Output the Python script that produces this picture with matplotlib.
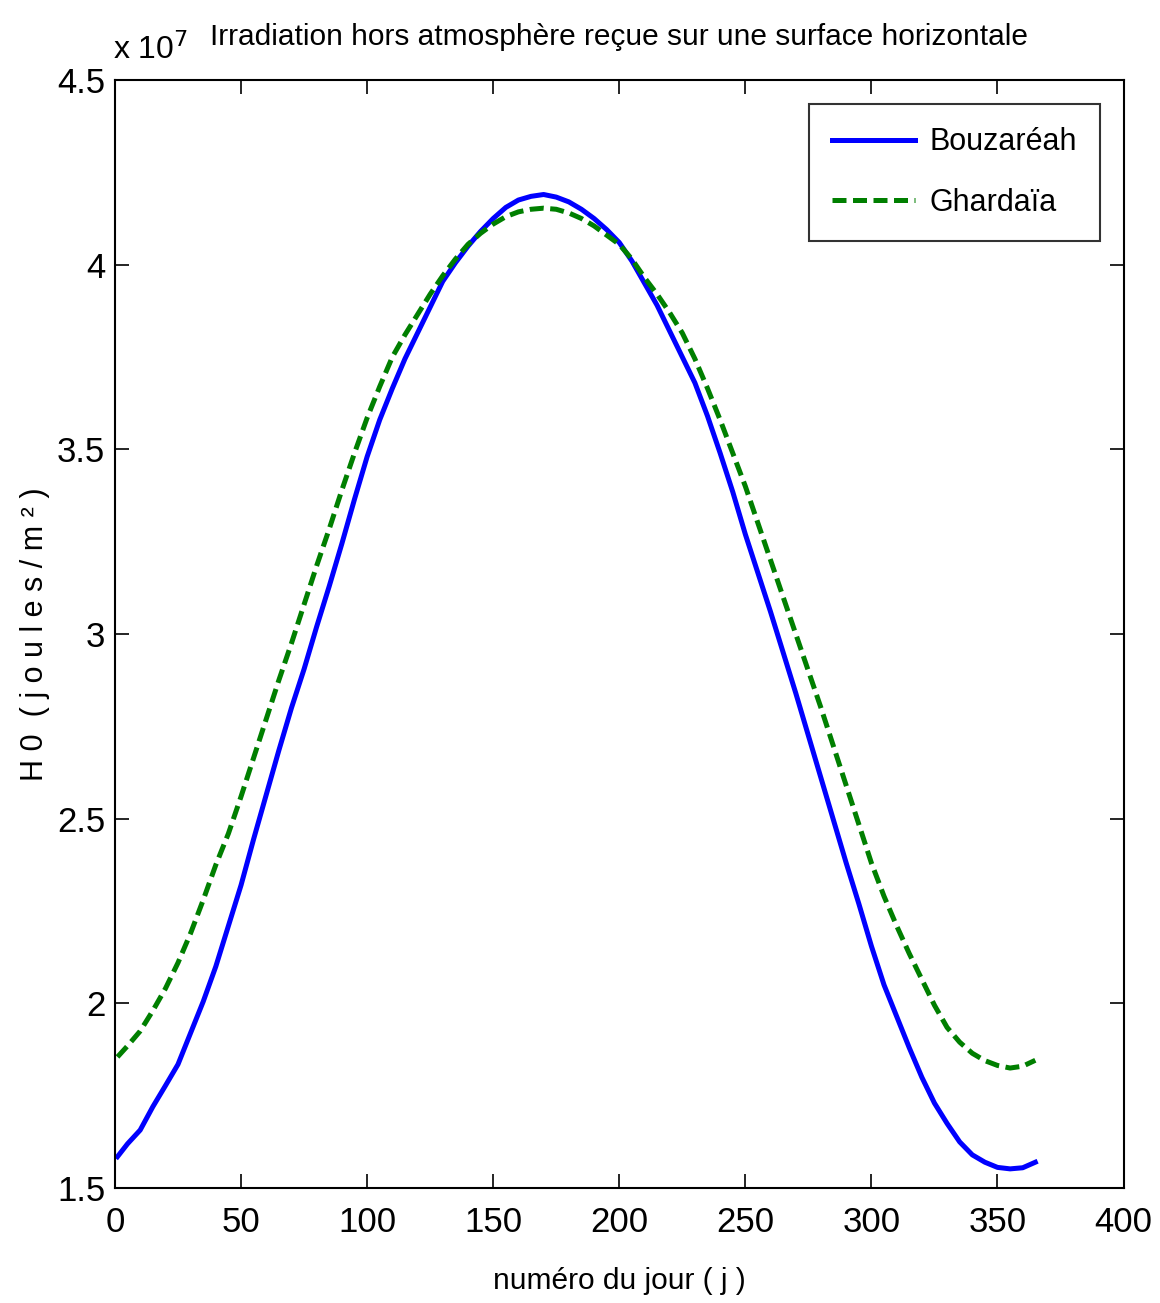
import matplotlib
matplotlib.use('Agg')
import matplotlib.pyplot as plt
from matplotlib.ticker import FormatStrFormatter

# -------- data (H0 in units of 1e7 J/m2) -------- #
jours = [1, 5, 10, 15, 20, 25, 30, 35, 40, 45, 50, 55, 60, 65, 70, 75, 80,
         85, 90, 95, 100, 105, 110, 115, 120, 125, 130, 135, 140, 145, 150,
         155, 160, 165, 170, 175, 180, 185, 190, 195, 200, 205, 210, 215,
         220, 225, 230, 235, 240, 245, 250, 255, 260, 265, 270, 275, 280,
         285, 290, 295, 300, 305, 310, 315, 320, 325, 330, 335, 340, 345,
         350, 355, 360, 365]

bouzareah = [1.585, 1.62, 1.657, 1.72, 1.777, 1.835, 1.92, 2.005, 2.10, 2.21,
             2.32, 2.445, 2.565, 2.685, 2.80, 2.905, 3.02, 3.13, 3.245, 3.365,
             3.48, 3.58, 3.665, 3.745, 3.815, 3.885, 3.955, 4.005, 4.05, 4.09,
             4.125, 4.155, 4.175, 4.185, 4.19, 4.183, 4.17, 4.15, 4.125,
             4.095, 4.06, 4.01, 3.95, 3.89, 3.82, 3.75, 3.68, 3.59, 3.49,
             3.385, 3.27, 3.165, 3.06, 2.95, 2.84, 2.725, 2.61, 2.495, 2.38,
             2.27, 2.155, 2.05, 1.965, 1.88, 1.80, 1.73, 1.675, 1.625, 1.59,
             1.57, 1.556, 1.552, 1.555, 1.57]

ghardaia = [1.855, 1.885, 1.925, 1.98, 2.04, 2.11, 2.19, 2.28, 2.375, 2.46,
            2.56, 2.665, 2.77, 2.875, 2.975, 3.08, 3.185, 3.285, 3.39, 3.49,
            3.585, 3.67, 3.75, 3.81, 3.865, 3.92, 3.97, 4.015, 4.055, 4.085,
            4.11, 4.13, 4.143, 4.15, 4.153, 4.15, 4.14, 4.125, 4.105, 4.08,
            4.055, 4.015, 3.965, 3.92, 3.87, 3.815, 3.745, 3.665, 3.58, 3.49,
            3.40, 3.30, 3.20, 3.10, 3.00, 2.90, 2.80, 2.695, 2.59, 2.485,
            2.38, 2.29, 2.21, 2.135, 2.065, 1.995, 1.935, 1.895, 1.865, 1.845,
            1.832, 1.825, 1.83, 1.846]

xticks = [0, 50, 100, 150, 200, 250, 300, 350, 400]
yticks = [1.5, 2, 2.5, 3, 3.5, 4, 4.5]

# -------- plot -------- #
plt.rcParams['font.family'] = ['Liberation Sans', 'DejaVu Sans']

fig = plt.figure(figsize=(11.6, 13.03), dpi=100)
ax = fig.add_axes([0.0991, 0.0882, 0.8695, 0.8504])

ax.plot(jours, bouzareah, color='#0000ff', lw=3.6, label='Bouzaréah')
ax.plot(jours, ghardaia, color='#007f00', lw=3.6, ls=(0, (2.8, 1.3)),
        label='Ghardaïa')

ax.set_xlim(0, 400)
ax.set_ylim(1.5, 4.5)
ax.set_xticks(xticks)
ax.set_yticks(yticks)
ax.yaxis.set_major_formatter(FormatStrFormatter('%g'))
ax.tick_params(direction='in', length=10, width=1.2, top=True, right=True,
               labelsize=25)
ax.tick_params(axis='x', pad=13)
ax.tick_params(axis='y', pad=7)
for s in ax.spines.values():
    s.set_linewidth(1.5)

ax.set_xlabel('numéro du jour ( j )', fontsize=21.5, labelpad=20)
ax.set_ylabel('H 0  ( j o u l e s / m ² )', fontsize=22, labelpad=5)
ax.set_title('Irradiation hors atmosphère reçue sur une surface horizontale',
             fontsize=21.5, pad=25, x=0.5)
ax.text(-0.002, 1.013, r'x 10$^{7}$', transform=ax.transAxes, fontsize=23,
        ha='left', va='bottom')

leg = ax.legend(loc='upper right', fontsize=22, frameon=True, fancybox=False,
                edgecolor='black', handlelength=2.7, borderpad=0.75,
                labelspacing=1.0, handletextpad=0.5, borderaxespad=0,
                bbox_to_anchor=(0.977, 0.978))
leg.get_frame().set_linewidth(1.5)

fig.savefig('out.png', dpi=100, facecolor='white')
